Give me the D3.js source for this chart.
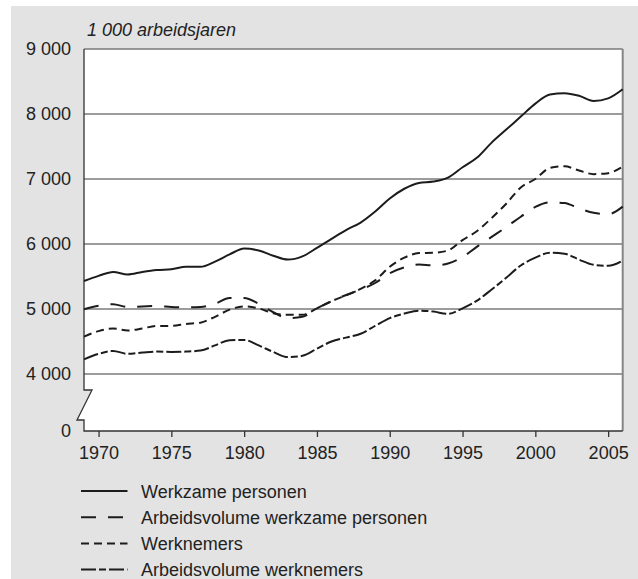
<!DOCTYPE html>
<html>
<head>
<meta charset="utf-8">
<script src="https://cdn.jsdelivr.net/npm/d3@7"></script>
<style>
  body { margin: 0; background: #fff; }
  svg { display: block; font-family: "Liberation Sans", Arial, sans-serif; }
</style>
</head>
<body>
<div id="chart"></div>
<script>
// Data (1 000 arbeidsjaren)
const years = [1969, 1970, 1971, 1972, 1973, 1974, 1975, 1976, 1977, 1978,
  1979, 1980, 1981, 1982, 1983, 1984, 1985, 1986, 1987, 1988,
  1989, 1990, 1991, 1992, 1993, 1994, 1995, 1996, 1997, 1998,
  1999, 2000, 2001, 2002, 2003, 2004, 2005, 2006];

const werkzamePersonen = [5430, 5510, 5570, 5530, 5570, 5600, 5610, 5650, 5650, 5730,
  5840, 5930, 5900, 5820, 5760, 5810, 5940, 6080, 6215, 6330,
  6500, 6700, 6850, 6940, 6960, 7020, 7180, 7330, 7560, 7760,
  7960, 8160, 8300, 8320, 8280, 8200, 8240, 8380];

const volumeWerkzame = [4995, 5050, 5075, 5030, 5040, 5045, 5030, 5025, 5030, 5080,
  5170, 5170, 5080, 4950, 4860, 4880, 5010, 5120, 5215, 5300,
  5400, 5550, 5640, 5685, 5670, 5700, 5800, 5960, 6110, 6260,
  6420, 6570, 6640, 6630, 6550, 6480, 6460, 6575];

const werknemers = [4575, 4660, 4700, 4670, 4700, 4740, 4740, 4770, 4790, 4880,
  4990, 5040, 5010, 4935, 4910, 4910, 5010, 5120, 5210, 5310,
  5440, 5650, 5790, 5860, 5865, 5900, 6060, 6200, 6400, 6620,
  6870, 7000, 7170, 7195, 7130, 7075, 7090, 7190];

const volumeWerknemers = [4225, 4310, 4355, 4310, 4330, 4345, 4340, 4345, 4360, 4440,
  4520, 4525, 4440, 4340, 4260, 4280, 4390, 4500, 4560, 4620,
  4740, 4860, 4930, 4975, 4960, 4925, 5010, 5130, 5300, 5480,
  5670, 5790, 5865, 5850, 5760, 5680, 5665, 5745];

const seriesNames = ["Werkzame personen", "Arbeidsvolume werkzame personen",
  "Werknemers", "Arbeidsvolume werknemers"];
const yTicks = [0, 4000, 5000, 6000, 7000, 8000, 9000];
const xTicks = [1970, 1975, 1980, 1985, 1990, 1995, 2000, 2005];

document.addEventListener("DOMContentLoaded", function () {
  const width = 638;
  const height = 579;
  const plot = { left: 84, right: 622.7, top: 49, bottom: 431 };
  const ink = "#1c1c1c";

  const series = [
    { name: seriesNames[0], values: werkzamePersonen, dash: null },
    { name: seriesNames[1], values: volumeWerkzame, dash: "15,12" },
    { name: seriesNames[2], values: werknemers, dash: "8,5" },
    { name: seriesNames[3], values: volumeWerknemers, dash: "15,3,7,3" }
  ];

  const svg = d3.select("#chart")
    .append("svg")
    .attr("width", width)
    .attr("height", height);

  // Grey panel
  svg.append("rect")
    .attr("x", 11)
    .attr("y", 6)
    .attr("width", width - 11)
    .attr("height", height - 6)
    .attr("fill", "#e3e3e3");

  // Scales (broken y axis: 0 .. 4000 squeezed)
  const x = d3.scaleLinear()
    .domain([1969, 2006])
    .range([plot.left, plot.right]);

  const y = d3.scaleLinear()
    .domain([0, 4000, 9000])
    .range([plot.bottom, 374, plot.top]);

  // White plot area with the axis break notch
  svg.append("path")
    .attr("d", `M${plot.left},${plot.top} H${plot.right} V${plot.bottom} H${plot.left}
      V420 H77 L92,390 H${plot.left} Z`)
    .attr("fill", "#fff");

  // Gridlines
  svg.append("g")
    .selectAll("line")
    .data(yTicks.filter(d => d >= 4000 && d < 9000))
    .enter()
    .append("line")
    .attr("x1", plot.left)
    .attr("x2", plot.right)
    .attr("y1", d => y(d))
    .attr("y2", d => y(d))
    .attr("stroke", "#3a3a3a")
    .attr("stroke-width", 1.1);

  // Frame: top and right in grey, left axis with break, bottom axis
  svg.append("line")
    .attr("x1", plot.left).attr("x2", plot.right)
    .attr("y1", plot.top).attr("y2", plot.top)
    .attr("stroke", "#7a7a7a").attr("stroke-width", 1.5);

  svg.append("line")
    .attr("x1", plot.right).attr("x2", plot.right)
    .attr("y1", plot.top).attr("y2", plot.bottom)
    .attr("stroke", "#858585").attr("stroke-width", 2);

  svg.append("path")
    .attr("d", `M${plot.left},${plot.top} V390 H92 L77,420 H${plot.left} V${plot.bottom} H${plot.right}`)
    .attr("fill", "none")
    .attr("stroke", "#333")
    .attr("stroke-width", 1.3);

  // Y axis labels
  const yAxis = svg.append("g")
    .attr("transform", `translate(${plot.left},0)`)
    .call(d3.axisLeft(y)
      .tickValues(yTicks)
      .tickSize(0)
      .tickPadding(13)
      .tickFormat(d => d3.format(",")(d).replace(",", " ")));
  yAxis.select(".domain").remove();
  yAxis.selectAll("text")
    .attr("font-size", "18px")
    .attr("font-family", "Liberation Sans, Arial, sans-serif")
    .attr("fill", "#222");

  // X axis ticks and labels
  const xAxis = svg.append("g")
    .attr("transform", `translate(0,${plot.bottom})`)
    .call(d3.axisBottom(x)
      .tickValues(xTicks)
      .tickSize(6)
      .tickPadding(9.5)
      .tickFormat(d3.format("d")));
  xAxis.select(".domain").remove();
  xAxis.selectAll("line").attr("stroke", "#333").attr("stroke-width", 1.3);
  xAxis.selectAll("text")
    .attr("font-size", "18px")
    .attr("font-family", "Liberation Sans, Arial, sans-serif")
    .attr("fill", "#222");

  // Unit label
  svg.append("text")
    .attr("x", 87)
    .attr("y", 35.5)
    .attr("font-size", "18px")
    .attr("font-style", "italic")
    .attr("fill", "#222")
    .text("1 000 arbeidsjaren");

  // Lines
  const line = d3.line()
    .x((d, i) => x(years[i]))
    .y(d => y(d))
    .curve(d3.curveMonotoneX);

  svg.append("g")
    .selectAll("path")
    .data(series)
    .enter()
    .append("path")
    .attr("fill", "none")
    .attr("stroke", ink)
    .attr("stroke-width", 2)
    .attr("stroke-dasharray", d => d.dash)
    .attr("d", d => line(d.values));

  // Legend
  const legend = svg.append("g")
    .selectAll("g")
    .data(series)
    .enter()
    .append("g")
    .attr("transform", (d, i) => `translate(81,${491 + i * 26.2})`);

  legend.append("line")
    .attr("x1", 0)
    .attr("x2", 46.5)
    .attr("stroke", ink)
    .attr("stroke-width", 2)
    .attr("stroke-dasharray", d => d.dash);

  legend.append("text")
    .attr("x", 60)
    .attr("y", 6.5)
    .attr("font-size", "18px")
    .attr("fill", "#222")
    .text(d => d.name);
});
</script>
</body>
</html>
